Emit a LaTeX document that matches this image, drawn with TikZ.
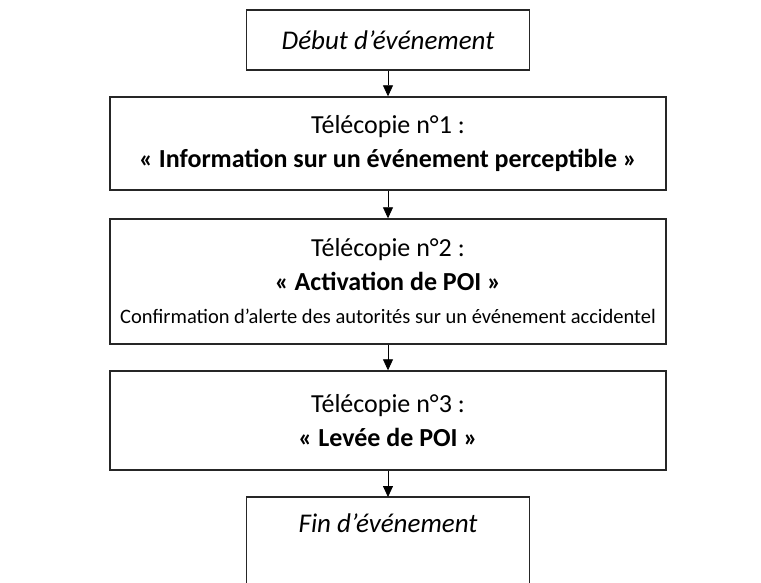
\documentclass[tikz,border=0pt]{standalone}
\usepackage{fontspec}
\setmainfont{Carlito}
\usetikzlibrary{arrows.meta}
\newcommand{\detailsize}{\fontsize{20.5}{33}\selectfont}
\begin{document}
\begin{tikzpicture}[x=1pt,y=-1pt,
  boxline/.style={draw=black!85, line width=1.4pt},
  stepbox/.style={boxline, align=center, inner sep=0pt, font=\fontsize{26}{33.5}\selectfont},
  eventtext/.style={font=\fontsize{27}{33}\selectfont\itshape},
  flow/.style={draw=black, line width=0.8pt, -{Triangle[width=10pt,length=11pt]}}]
  \useasboundingbox (0,0) rectangle (761,583);
  \clip (0,0) rectangle (761,583);
  % start of the event
  \node[stepbox, eventtext, minimum width=283pt, minimum height=60pt] (a) at (388,40)
    {Début d’événement};
  % fax 1
  \node[stepbox, minimum width=556pt, minimum height=93pt] (b) at (388,143.5)
    {Télécopie n°1 :\\ \bfseries «~Information sur un événement perceptible~»};
  % fax 2
  \node[stepbox, minimum width=556pt, minimum height=125pt] (c) at (388,281.5)
    {Télécopie n°2 :\\ \bfseries «~Activation de POI~»\\ \detailsize Confirmation d’alerte des autorités sur un événement accidentel};
  % fax 3
  \node[stepbox, minimum width=556pt, minimum height=99pt] (d) at (388,420.5)
    {Télécopie n°3 :\\ \bfseries «~Levée de POI~»};
  % end of the event (box runs past the lower edge)
  \node[eventtext, align=center, inner sep=0pt,
        minimum width=283pt, minimum height=52pt, anchor=north] (e) at (388,497)
    {Fin d’événement};
  \draw[boxline] ([yshift=-60pt]e.south west) |- (e.north east) -- ([yshift=-60pt]e.south east);
  % connectors
  \draw[flow] (a.south) -- (a.south |- b.north);
  \draw[flow] (a.south |- b.south) -- (a.south |- c.north);
  \draw[flow] (a.south |- c.south) -- (a.south |- d.north);
  \draw[flow] (a.south |- d.south) -- (e.north);
\end{tikzpicture}
\end{document}
